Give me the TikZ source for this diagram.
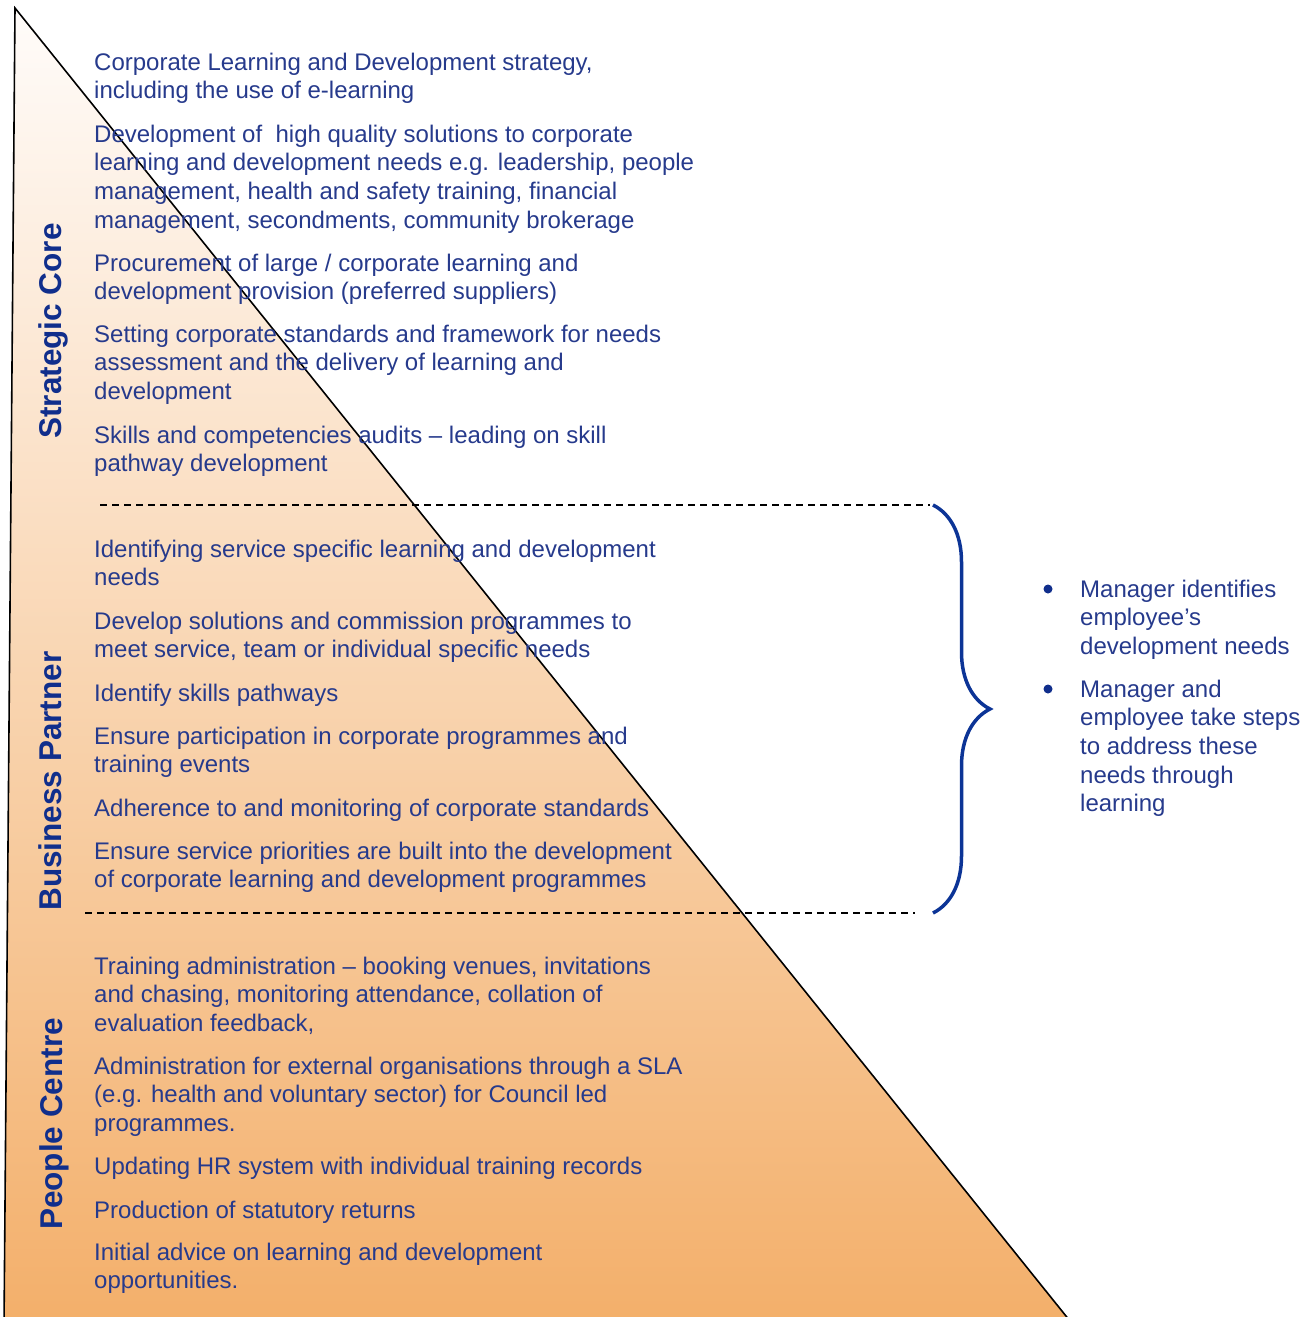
\documentclass[tikz,border=0pt]{standalone}
\usepackage{fontspec}
\setmainfont{Liberation Sans}
\usetikzlibrary{decorations.pathreplacing}
\definecolor{txtblue}{RGB}{38,58,140}
\definecolor{tierblue}{RGB}{16,46,140}
\definecolor{braceblue}{RGB}{12,52,150}
\definecolor{paletop}{RGB}{255,252,250}
\definecolor{orangebot}{RGB}{243,175,106}
\tikzset{
  item/.style={anchor=north west, inner sep=0pt, align=left, text=txtblue,
    font=\fontsize{24}{28.7}\selectfont},
  tier/.style={anchor=base, rotate=90, inner sep=0pt, text=tierblue,
    font=\fontsize{31.5}{36}\selectfont\bfseries},
  divider/.style={dashed, dash pattern=on 7pt off 5pt, line width=1.3pt},
  dot/.style={circle, fill=tierblue, inner sep=0pt, minimum size=9pt},
}
\begin{document}
\begin{tikzpicture}[x=1pt,y=-1pt]
   \useasboundingbox (0,0) rectangle (1315,1317);
   % pyramid
   \coordinate (apex) at (15,8);
   \coordinate (bl) at (4,1326);
   \coordinate (br) at (1074,1326);
   \shade[top color=paletop, bottom color=orangebot] (apex) -- (bl) -- (br) -- cycle;
   \draw [line width=1.6pt] (bl) -- (apex) -- (br);

   % tier names
   \node [tier] (core) at (61,331) {Strategic Core};
   \node [tier] (partner) at (61,781) {Business Partner};
   \node [tier] (centre) at (62,1124) {People Centre};

   % strategic core
   \node [item] (s1) at (94,52.5) {Corporate Learning and Development strategy,\\including the use of e-learning};
   \node [item] (s2) at (94,124.5) {Development of\ \ high quality solutions to corporate\\learning and development needs e.g. leadership, people\\management, health and safety training, financial\\management, secondments, community brokerage};
   \node [item] (s3) at (94,253.5) {Procurement of large / corporate learning and\\development provision (preferred suppliers)};
   \node [item] (s4) at (94,324.5) {Setting corporate standards and framework for needs\\assessment and the delivery of learning and\\development};
   \node [item] (s5) at (94,425.5) {Skills and competencies audits -- leading on skill\\pathway development};

   % business partner
   \node [item] (p1) at (94,539.5) {Identifying service specific learning and development\\needs};
   \node [item] (p2) at (94,611.5) {Develop solutions and commission programmes to\\meet service, team or individual specific needs};
   \node [item] (p3) at (94,683.5) {Identify skills pathways};
   \node [item] (p4) at (94,726.5) {Ensure participation in corporate programmes and\\training events};
   \node [item] (p5) at (94,798.5) {Adherence to and monitoring of corporate standards};
   \node [item] (p6) at (94,841.5) {Ensure service priorities are built into the development\\of corporate learning and development programmes};

   % people centre
   \node [item] (c1) at (94,956.5) {Training administration -- booking venues, invitations\\and chasing, monitoring attendance, collation of\\evaluation feedback,};
   \node [item] (c2) at (94,1056.5) {Administration for external organisations through a SLA\\(e.g. health and voluntary sector) for Council led\\programmes.};
   \node [item] (c3) at (94,1156.5) {Updating HR system with individual training records};
   \node [item] (c4) at (94,1200.5) {Production of statutory returns};
   \node [item] (c5) at (94,1242.5) {Initial advice on learning and development\\opportunities.};

   % tier borders
   \coordinate (upl) at (100,505);
   \coordinate (upr) at (930,505);
   \coordinate (lol) at (85,913);
   \coordinate (lor) at (915,913);
   \draw [divider] (upl) -- (upr);
   \draw [divider] (lol) -- (lor);

   % brace and manager notes
   \coordinate (bt) at (933,505);
   \coordinate (bb) at (933,913);
   \draw [braceblue, line width=3.5pt, decorate, decoration={brace, amplitude=57pt}] (bt) -- (bb);
   \node [dot] (d1) at (1048,589) {};
   \node [dot] (d2) at (1048,689) {};
   \node [item] (m1) at (1080,579.5) {Manager identifies\\employee’s\\development needs};
   \node [item] (m2) at (1080,679.5) {Manager and\\employee take steps\\to address these\\needs through\\learning};
\end{tikzpicture}
\end{document}
